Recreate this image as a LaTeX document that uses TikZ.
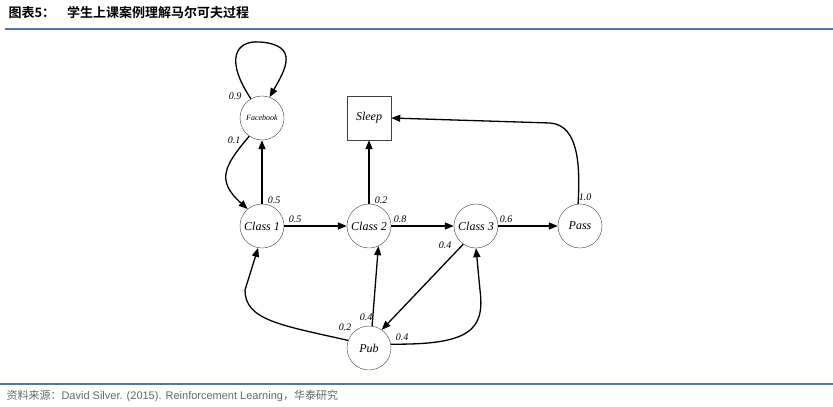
\documentclass[tikz,border=0pt]{standalone}
\usepackage{fontspec}
\setmainfont{Liberation Serif}
\newfontfamily\cjk{Noto Sans CJK SC}
\newfontfamily\cjkb{Noto Sans CJK SC Bold}
\newfontfamily\arial{Liberation Sans}
\usetikzlibrary{arrows.meta}
\begin{document}
\begin{tikzpicture}[x=1pt,y=-1pt,
 st/.style={circle,draw=black!75,thin,minimum size=44pt,inner sep=0pt,font=\itshape\fontsize{12}{12}\selectfont},
 ar/.style={-{Triangle[length=9pt,width=7pt]},line width=1.3pt},
 lb/.style={font=\itshape\fontsize{10}{10}\selectfont,inner sep=1pt}]
\useasboundingbox (0,0) rectangle (833,407);
\node[anchor=west,font=\cjkb\fontsize{13}{13}\selectfont] (title) at (5,13) {图表5：\hspace{12pt}学生上课案例理解马尔可夫过程};
\draw[line width=2.5pt,color={rgb,255:red,80;green,120;blue,170}] (5,29) -- (833,29);
\draw[line width=2pt,color={rgb,255:red,80;green,120;blue,170}] (0,384) -- (833,384);
\node[anchor=west,text=black!60,font=\fontsize{11}{11}\selectfont] (src) at (3,396) {{\cjk 资料来源：}{\arial David Silver. (2015). Reinforcement Learning}{\cjk，华泰研究}};
\node[st,font=\itshape\fontsize{8}{8}\selectfont] (fb) at (262,118) {Facebook};
\node[draw=black!75,thin,minimum size=44pt,inner sep=0pt,font=\itshape\fontsize{12}{12}\selectfont] (sl) at (369,118) {Sleep};
\node[st] (c1) at (262,226) {Class 1};
\node[st] (c2) at (369,226) {Class 2};
\node[st] (c3) at (476,226) {Class 3};
\node[st] (ps) at (580,226) {Pass};
\node[st] (pb) at (369,348) {Pub};
\draw[ar] (fb.120) .. controls (225,60) and (235,40) .. (260,42) .. controls (300,45) and (285,70) .. (fb.70);
\draw[ar] (fb.235) .. controls (225,165) and (215,180) .. (c1.130);
\draw[ar] (c1) -- (fb);
\draw[ar] (c1) -- (c2);
\draw[ar] (c2) -- (sl);
\draw[ar] (c2) -- (c3);
\draw[ar] (c3) -- (ps);
\draw[ar] (ps.95) .. controls (580,170) and (580,125) .. (550,123) -- (sl.east);
\draw[ar] (c3.235) -- (pb.55);
\draw[ar] (pb.82) -- (c2.-65);
\draw[ar] (pb.160) .. controls (280,325) and (245,320) .. (245,290) -- (c1.-100);
\draw[ar] (pb.10) .. controls (470,345) and (485,330) .. (480,290) -- (c3.-90);
\node[lb] (l1) at (235,96) {0.9};
\node[lb] (l2) at (234,140) {0.1};
\node[lb] (l3) at (274,200) {0.5};
\node[lb] (l4) at (295,219) {0.5};
\node[lb] (l5) at (381,200) {0.2};
\node[lb] (l6) at (400,219) {0.8};
\node[lb] (l7) at (506,219) {0.6};
\node[lb] (l8) at (585,197) {1.0};
\node[lb] (l9) at (445,245) {0.4};
\node[lb] (l10) at (345,327) {0.2};
\node[lb] (l11) at (366,317) {0.4};
\node[lb] (l12) at (402,337) {0.4};
\end{tikzpicture}
\end{document}
